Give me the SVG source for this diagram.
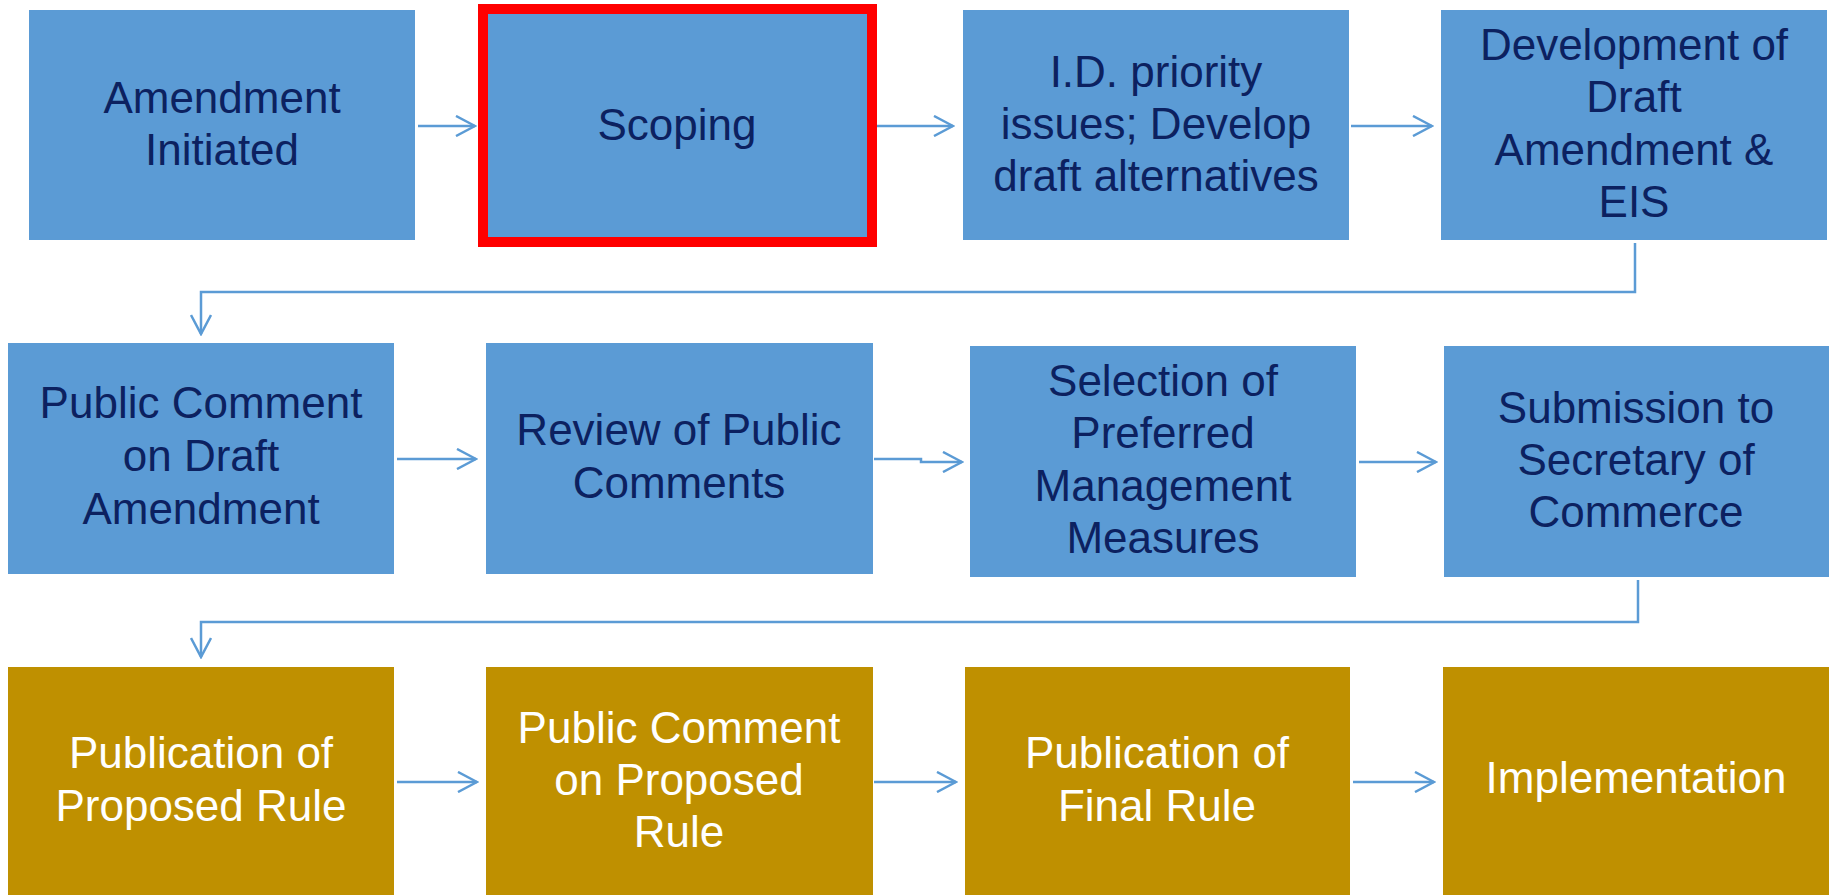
<svg xmlns="http://www.w3.org/2000/svg" width="1829" height="895" viewBox="0 0 1829 895">
<style>
.b{fill:#5B9BD5}
.g{fill:#BF9000}
.t{font-family:"Liberation Sans",Arial,sans-serif;font-size:44px;text-anchor:middle;fill:#0C2160}
.w{fill:#FFFFFF}
.c{fill:none;stroke:#5B9BD5;stroke-width:2.5}
</style>
<defs>
<marker id="ah" viewBox="0 0 22 22" markerWidth="22" markerHeight="22" refX="20" refY="11" markerUnits="userSpaceOnUse" orient="auto">
<path d="M1,1 L20,11 L1,21" fill="none" stroke="#5B9BD5" stroke-width="2.5"/>
</marker>
</defs>
<rect width="1829" height="895" fill="#FFFFFF"/>
<g id="connectors">
<path class="c" d="M418 126 H475" marker-end="url(#ah)"/>
<path class="c" d="M877 126 H953" marker-end="url(#ah)"/>
<path class="c" d="M1351 126 H1432" marker-end="url(#ah)"/>
<path class="c" d="M1635 243 V292 H201 V334" marker-end="url(#ah)"/>
<path class="c" d="M397 459 H476" marker-end="url(#ah)"/>
<path class="c" d="M874 459 H921 V462 H962" marker-end="url(#ah)"/>
<path class="c" d="M1359 462 H1436" marker-end="url(#ah)"/>
<path class="c" d="M1638 580 V622 H201 V657" marker-end="url(#ah)"/>
<path class="c" d="M397 782 H477" marker-end="url(#ah)"/>
<path class="c" d="M874 782 H956" marker-end="url(#ah)"/>
<path class="c" d="M1353 782 H1434" marker-end="url(#ah)"/>
</g>
<g id="n1"><rect class="b" x="29" y="10" width="386" height="230"/>
<text class="t" x="222" y="113">Amendment</text><text class="t" x="222" y="165">Initiated</text></g>
<g id="n2"><rect class="b" x="483" y="9" width="389" height="233" stroke="#FF0000" stroke-width="10"/>
<text class="t" x="677" y="140">Scoping</text></g>
<g id="n3"><rect class="b" x="963" y="10" width="386" height="230"/>
<text class="t" x="1156" y="87">I.D. priority</text><text class="t" x="1156" y="139">issues; Develop</text><text class="t" x="1156" y="191">draft alternatives</text></g>
<g id="n4"><rect class="b" x="1441" y="10" width="386" height="230"/>
<text class="t" x="1634" y="60">Development of</text><text class="t" x="1634" y="112">Draft</text><text class="t" x="1634" y="165">Amendment &amp;</text><text class="t" x="1634" y="217">EIS</text></g>
<g id="n5"><rect class="b" x="8" y="343" width="386" height="231"/>
<text class="t" x="201" y="418">Public Comment</text><text class="t" x="201" y="471">on Draft</text><text class="t" x="201" y="524">Amendment</text></g>
<g id="n6"><rect class="b" x="486" y="343" width="387" height="231"/>
<text class="t" x="679" y="445">Review of Public</text><text class="t" x="679" y="498">Comments</text></g>
<g id="n7"><rect class="b" x="970" y="346" width="386" height="231"/>
<text class="t" x="1163" y="396">Selection of</text><text class="t" x="1163" y="448">Preferred</text><text class="t" x="1163" y="501">Management</text><text class="t" x="1163" y="553">Measures</text></g>
<g id="n8"><rect class="b" x="1444" y="346" width="385" height="231"/>
<text class="t" x="1636" y="423">Submission to</text><text class="t" x="1636" y="475">Secretary of</text><text class="t" x="1636" y="527">Commerce</text></g>
<g id="n9"><rect class="g" x="8" y="667" width="386" height="228"/>
<text class="t w" x="201" y="768">Publication of</text><text class="t w" x="201" y="821">Proposed Rule</text></g>
<g id="n10"><rect class="g" x="486" y="667" width="387" height="228"/>
<text class="t w" x="679" y="743">Public Comment</text><text class="t w" x="679" y="795">on Proposed</text><text class="t w" x="679" y="847">Rule</text></g>
<g id="n11"><rect class="g" x="965" y="667" width="385" height="228"/>
<text class="t w" x="1157" y="768">Publication of</text><text class="t w" x="1157" y="821">Final Rule</text></g>
<g id="n12"><rect class="g" x="1443" y="667" width="386" height="228"/>
<text class="t w" x="1636" y="793">Implementation</text></g>
</svg>
